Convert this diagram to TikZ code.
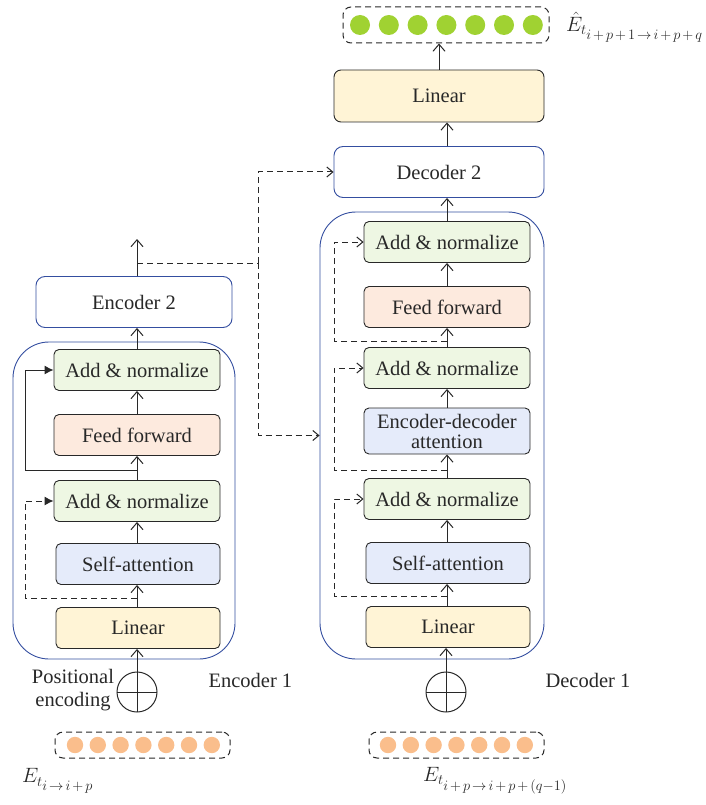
\documentclass[tikz,border=0pt]{standalone}
\usepackage{fontspec}
\setmainfont{Liberation Serif}
\usetikzlibrary{arrows.meta,calc}
\definecolor{anfill}{RGB}{238,247,227}
\definecolor{fffill}{RGB}{253,234,222}
\definecolor{safill}{RGB}{229,235,250}
\definecolor{linfill}{RGB}{255,244,214}
\definecolor{frameblue}{RGB}{52,78,160}
\definecolor{dotorange}{RGB}{250,190,140}
\definecolor{dotgreen}{RGB}{160,210,50}
\definecolor{inkc}{RGB}{40,40,40}
% spaced operators for script-size index ranges
\newcommand{\ixplus}{\mskip2.5mu{+}\mskip2.5mu}
\newcommand{\ixto}{\mskip2.5mu{\rightarrow}\mskip2.5mu}
\begin{document}
\begin{tikzpicture}[x=1pt,y=-1pt,
  txt/.style={font=\fontsize{20.5}{23}\selectfont, text=inkc},
  mathlab/.style={font=\fontsize{20}{23}\selectfont, text=inkc, inner sep=0pt},
  blk/.style={txt, draw=inkc, line width=0.9pt, rounded corners=5pt,
    minimum width=166pt, minimum height=41pt, inner sep=0pt, align=center},
  anbox/.style={blk, fill=anfill},
  ffbox/.style={blk, fill=fffill},
  sabox/.style={blk, fill=safill},
  linbox/.style={blk, fill=linfill},
  stage/.style={txt, draw=frameblue, line width=0.9pt, rounded corners=9pt, fill=white, inner sep=0pt},
  frame/.style={draw=frameblue, line width=0.9pt, rounded corners=36pt, inner sep=0pt},
  arr/.style={draw=inkc, line width=1pt, -{Straight Barb[length=7pt,width=12pt]}},
  dres/.style={draw=inkc, line width=1pt, dash pattern=on 6pt off 4pt, -{Straight Barb[length=6pt,width=10pt]}},
  dlink/.style={draw=inkc, line width=1pt, dash pattern=on 6pt off 4pt},
  fres/.style={draw=inkc, line width=1pt, -{Latex[length=9pt,width=9pt]}},
  dresf/.style={draw=inkc, line width=1pt, dash pattern=on 6pt off 4pt, -{Latex[length=9pt,width=9pt]}},
  vecbox/.style={draw=inkc, line width=1pt, dash pattern=on 6pt off 4pt, rounded corners=8pt, inner sep=0pt},
  oplus/.style={circle, draw=inkc, line width=1pt, minimum size=40pt, inner sep=0pt,
    path picture={\draw[inkc, line width=1pt]
      (path picture bounding box.north) -- (path picture bounding box.south)
      (path picture bounding box.west) -- (path picture bounding box.east);}}
]
\useasboundingbox (0,0) rectangle (706,805);

% ---------------- Encoder 1 ----------------
\node[frame, minimum width=222pt, minimum height=317pt] (encframe) at (124,500.5) {};
\node[anbox] (ean1) at (137,370) {Add \& normalize};
\node[ffbox] (eff) at (137,435) {Feed forward};
\node[anbox] (ean2) at (137,501) {Add \& normalize};
\node[sabox, minimum width=164pt] (esa) at (138,564) {Self-attention};
\node[linbox, minimum width=164pt] (elin) at (138,628) {Linear};
\node[oplus] (eplus) at (137,692) {};
\node[txt, align=center] (poslab) at (73,690) {Positional\\encoding};
\node[txt, anchor=west] (enclab) at (205,680) {Encoder 1};

% encoder input vector
\node[vecbox, minimum width=175pt, minimum height=26pt] (evec) at (142.5,745) {};
\foreach \i in {0,...,6} \fill[dotorange] (75+\i*22.8,745) circle (8.2);
\node[mathlab, anchor=west] (elab) at (22,781) {$E_{t_{\scriptstyle i\ixto i\ixplus p}}$};

% Encoder 2
\node[stage, minimum width=196pt, minimum height=51pt] (enc2) at (134,302) {Encoder 2};
\coordinate (encout) at (137,239);
\coordinate (split) at (137,263);
\coordinate (jct) at (258,263);

% encoder chain
\draw[arr] (eplus.north) -- (eplus.north |- elin.south);
\draw[arr] (elin.north -| eplus.north) -- (esa.south -| eplus.north);
\draw[arr] (esa.north -| eplus.north) -- (ean2.south);
\draw[arr] (ean2) -- (eff);
\draw[arr] (eff) -- (ean1);
\draw[arr] (ean1.north) -- (ean1.north |- enc2.south);
\draw[arr] (ean1.north |- enc2.north) -- (encout);

% encoder residuals
\coordinate (etap1) at (137,470);
\coordinate (etap2) at (137,598);
\draw[fres] (etap1) -- (25,470) |- (ean1.west);
\draw[dresf] (etap2) -- (25,598) |- (ean2.west);

% ---------------- Decoder 1 ----------------
\node[frame, minimum width=224pt, minimum height=447pt] (decframe) at (432,435.5) {};
\node[anbox] (dan1) at (447,242) {Add \& normalize};
\node[ffbox] (dff) at (447,307) {Feed forward};
\node[anbox] (dan2) at (447,368) {Add \& normalize};
\node[sabox, minimum height=46pt, font=\fontsize{20.5}{20}\selectfont] (dea) at (447,431) {Encoder-decoder\\attention};
\node[anbox] (dan3) at (447,499) {Add \& normalize};
\node[sabox, minimum width=164pt] (dsa) at (448,563) {Self-attention};
\node[linbox, minimum width=164pt] (dlin) at (448,627) {Linear};
\node[oplus] (dplus) at (446,692) {};
\node[txt, anchor=west] (declab) at (542,680) {Decoder 1};

% decoder input vector
\node[vecbox, minimum width=175pt, minimum height=26pt] (dvec) at (456.5,745) {};
\foreach \i in {0,...,6} \fill[dotorange] (388+\i*22.8,745) circle (8.2);
\node[mathlab, anchor=west] (dlab) at (423,781) {$E_{t_{\scriptstyle i\ixplus p\ixto i\ixplus p\ixplus (q-1)}}$};

% Decoder 2, output linear and output vector
\node[stage, minimum width=210pt, minimum height=51pt] (dec2) at (439,172) {Decoder 2};
\node[linbox, minimum width=210pt, minimum height=52pt, rounded corners=7pt] (olin) at (439,96) {Linear};
\node[vecbox, minimum width=206pt, minimum height=36pt] (ovec) at (446,25) {};
\foreach \i in {0,...,6} \fill[dotgreen] (360+\i*28.8,25) circle (10);
\node[mathlab, anchor=west] (olab) at (566,27) {$\hat{E}_{t_{\scriptstyle i\ixplus p\ixplus 1\ixto i\ixplus p\ixplus q}}$};

% decoder chain
\draw[arr] (dplus.north) -- (dplus.north |- dlin.south);
\draw[arr] (dlin.north -| dan1.north) -- (dsa.south -| dan1.north);
\draw[arr] (dsa.north -| dan1.north) -- (dan3.south);
\draw[arr] (dan3) -- (dea);
\draw[arr] (dea) -- (dan2);
\draw[arr] (dan2) -- (dff);
\draw[arr] (dff) -- (dan1);
\draw[arr] (dan1.north) -- (dan1.north |- dec2.south);
\draw[arr] (dec2.north -| dan1.north) -- (olin.south -| dan1.north);
\draw[arr] (olin.north) -- (olin.north |- ovec.south);

% decoder residuals
\coordinate (dtap1) at (447,341);
\coordinate (dtap2) at (447,470);
\coordinate (dtap3) at (447,596);
\draw[dres] (dtap1) -- (334,341) |- (dan1.west);
\draw[dres] (dtap2) -- (334,470) |- (dan2.west);
\draw[dres] (dtap3) -- (334,596) |- (dan3.west);

% encoder output to the decoders
\draw[dlink] (split) -- (jct);
\draw[dres] (jct) |- (dec2.west);
\draw[dres] (jct) |- (decframe.west);
\end{tikzpicture}
\end{document}
